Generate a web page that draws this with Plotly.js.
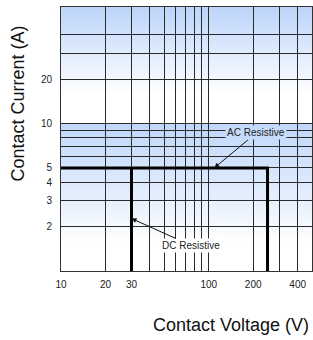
<!DOCTYPE html>
<html>
<head>
<meta charset="utf-8">
<script src="https://cdn.plot.ly/plotly-3.0.1.min.js"></script>
<style>html,body{margin:0;padding:0;background:#fff;}#chart{width:313px;height:340px;}</style>
</head>
<body>
<div id="chart"></div>
<script>
// ---- data ----
const xGridVals = [10, 20, 30, 40, 50, 60, 70, 80, 90, 100, 200, 300, 400];
const xTickText = ['10', '20', '30', '', '', '', '', '', '', '100', '200', '', '400'];
const yGridVals = [1, 2, 3, 4, 5, 6, 7, 8, 9, 10, 20, 30, 40];
const yTickText = ['', '2', '3', '4', '5', '', '', '', '', '10', '20', '', ''];
const acVoltage = [10, 250, 250];
const acCurrent = [5, 5, 1];
const dcVoltage = [30, 30];
const dcCurrent = [1, 5];
const acArrowPoint = [109, 5];
const dcArrowPoint = [30, 2.27];
const xRangeVals = [10, 500];
const yRangeVals = [1, 61.8];
// shaded bands: [top value, bottom value]
const band1 = [61.8, 15.6];
const band2 = [10, 1.6];

const xRange = xRangeVals.map(Math.log10);
const yRange = yRangeVals.map(Math.log10);
function paperY(v) { return (Math.log10(v) - yRange[0]) / (yRange[1] - yRange[0]); }

function gradientURI(stops) {
  const s = stops.map(([o, c]) => `<stop offset="${o}" stop-color="${c}"/>`).join('');
  const svg = `<svg xmlns="http://www.w3.org/2000/svg" width="10" height="100" viewBox="0 0 10 100" preserveAspectRatio="none"><defs><linearGradient id="g" x1="0" y1="0" x2="0" y2="1">${s}</linearGradient></defs><rect x="0" y="0" width="10" height="100" fill="url(#g)"/></svg>`;
  return 'data:image/svg+xml;charset=utf-8,' + encodeURIComponent(svg);
}
const grad1 = gradientURI([[0, '#bdd5fa'], [0.3, '#cfe1fc'], [0.55, '#e3edfd'], [0.85, '#f6f9ff'], [1, '#ffffff']]);
const grad2 = gradientURI([[0, '#bfd7fb'], [0.36, '#d4e4fc'], [0.65, '#e6effd'], [0.88, '#f5f9fe'], [1, '#ffffff']]);

const FONT = 'Liberation Sans, Arial, sans-serif';

const traces = [
  { x: acVoltage, y: acCurrent, type: 'scatter', mode: 'lines', line: { color: '#000', width: 3 }, hoverinfo: 'skip', showlegend: false },
  { x: dcVoltage, y: dcCurrent, type: 'scatter', mode: 'lines', line: { color: '#000', width: 3 }, hoverinfo: 'skip', showlegend: false }
];

const axisCommon = {
  type: 'log', showline: true, mirror: true, linecolor: '#333', linewidth: 1,
  showgrid: true, gridcolor: '#2a2a2a', gridwidth: 1, zeroline: false,
  ticks: '', tickmode: 'array', tickfont: { family: FONT, size: 10, color: '#222' },
  fixedrange: true
};

const layout = {
  width: 313, height: 340,
  margin: { l: 61, r: 1, t: 7, b: 69, pad: 0 },
  paper_bgcolor: '#fff', plot_bgcolor: '#fff',
  showlegend: false,
  xaxis: Object.assign({}, axisCommon, { range: xRange, tickvals: xGridVals, ticktext: xTickText, ticklabelstandoff: 4 }),
  yaxis: Object.assign({}, axisCommon, { range: yRange, tickvals: yGridVals, ticktext: yTickText, ticklabelstandoff: 6 }),
  images: [
    { source: grad1, xref: 'paper', yref: 'paper', x: 0, y: paperY(band1[0]), sizex: 1, sizey: paperY(band1[0]) - paperY(band1[1]), xanchor: 'left', yanchor: 'top', sizing: 'stretch', layer: 'below' },
    { source: grad2, xref: 'paper', yref: 'paper', x: 0, y: paperY(band2[0]), sizex: 1, sizey: paperY(band2[0]) - paperY(band2[1]), xanchor: 'left', yanchor: 'top', sizing: 'stretch', layer: 'below' }
  ],
  annotations: [
    { x: Math.log10(acArrowPoint[0]), y: Math.log10(acArrowPoint[1]), xref: 'x', yref: 'y', text: 'AC Resistive', showarrow: true,
      arrowhead: 2, arrowsize: 1, arrowwidth: 1, arrowcolor: '#111', ax: 42, ay: -35, bgcolor: '#c6dbfb', borderpad: 1,
      font: { family: FONT, size: 10, color: '#222' } },
    { x: Math.log10(dcArrowPoint[0]), y: Math.log10(dcArrowPoint[1]), xref: 'x', yref: 'y', text: 'DC Resistive', showarrow: true,
      arrowhead: 2, arrowsize: 1, arrowwidth: 1, arrowcolor: '#111', ax: 60, ay: 27, bgcolor: '#ffffff', borderpad: 1,
      font: { family: FONT, size: 10, color: '#222' } },
    { xref: 'paper', yref: 'paper', x: -0.171, y: 0.635, text: 'Contact Current (A)', textangle: -90, showarrow: false,
      xanchor: 'center', yanchor: 'middle', font: { family: FONT, size: 18, color: '#111' } },
    { xref: 'paper', yref: 'paper', x: 0.677, y: -0.206, text: 'Contact Voltage (V)', showarrow: false,
      xanchor: 'center', yanchor: 'middle', font: { family: FONT, size: 18, color: '#111' } }
  ]
};

Plotly.newPlot('chart', traces, layout, { staticPlot: true, displayModeBar: false });
</script>
</body>
</html>
